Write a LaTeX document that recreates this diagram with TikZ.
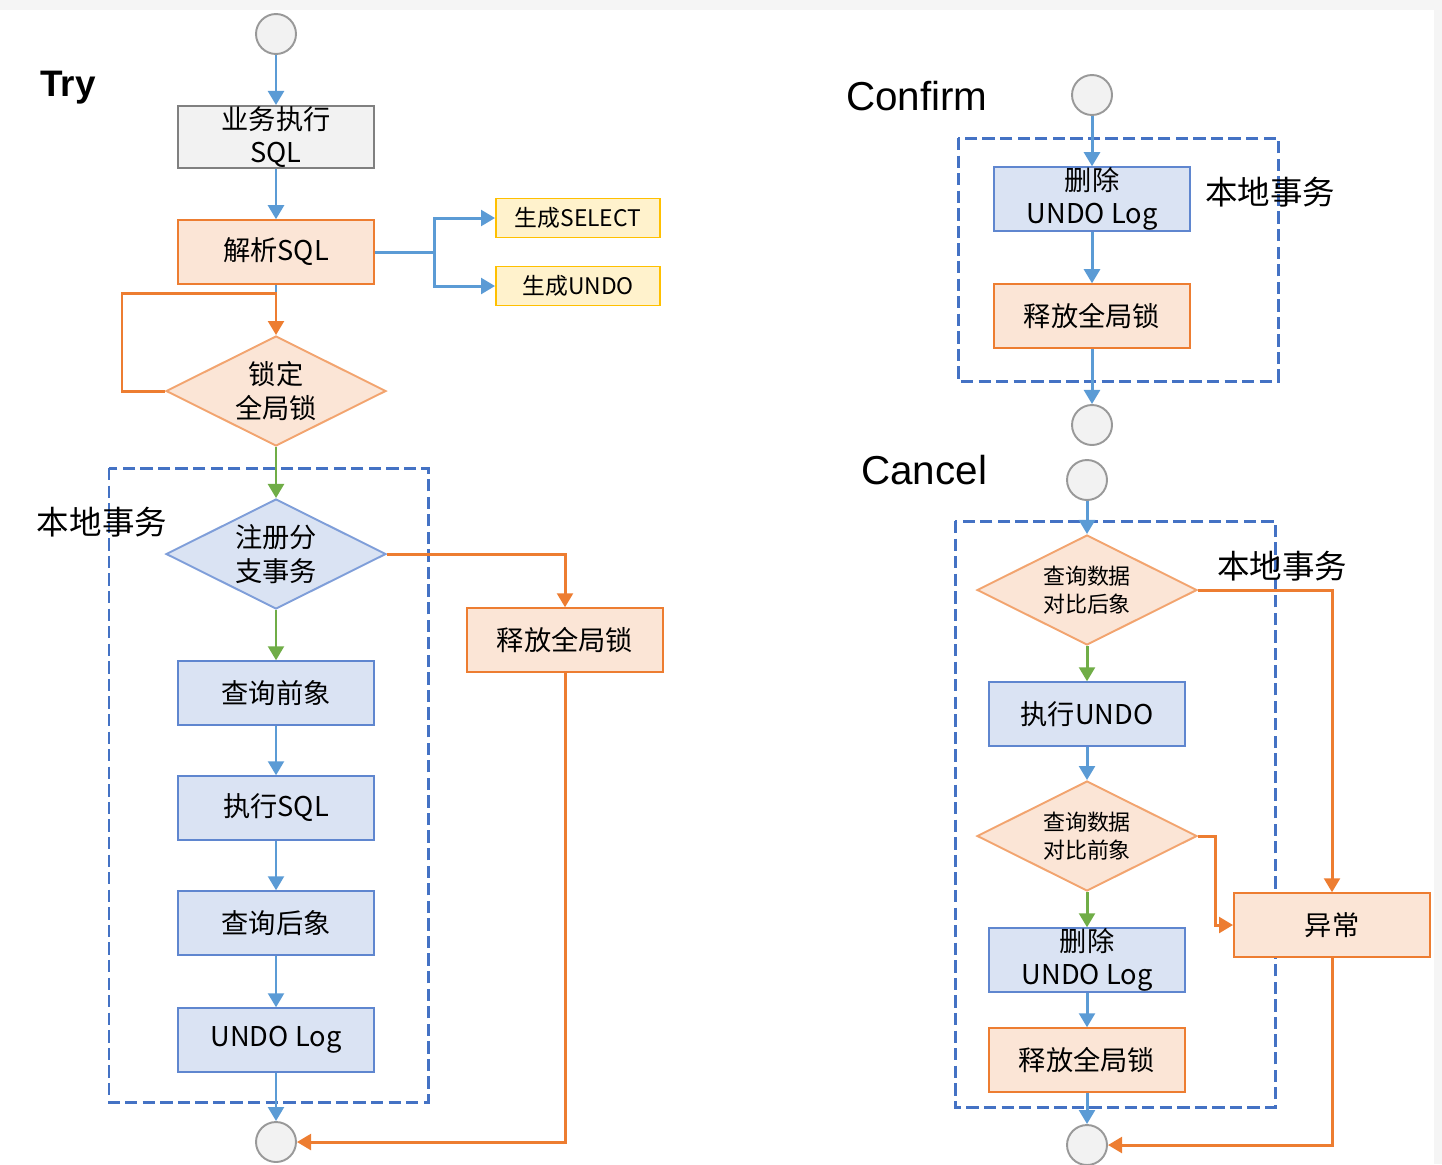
\documentclass[tikz,border=0pt]{standalone}
\usepackage{fontspec}
\setmainfont{Noto Sans CJK SC}
\newfontfamily\latinfont{Liberation Sans}
\usetikzlibrary{arrows.meta,shapes.geometric}

\definecolor{lineblue}{HTML}{5B9BD5}
\definecolor{lineorange}{HTML}{ED7D31}
\definecolor{linegreen}{HTML}{70AD47}
\definecolor{boxblue}{HTML}{DAE3F3}
\definecolor{edgeblue}{HTML}{5F86CF}
\definecolor{boxorange}{HTML}{FBE5D6}
\definecolor{boxyellow}{HTML}{FFF2CC}
\definecolor{edgeyellow}{HTML}{FFC000}
\definecolor{boxgray}{HTML}{F2F2F2}
\definecolor{framecol}{HTML}{4472C4}

\tikzset{
  every node/.style={font=\fontsize{15.5}{19}\selectfont, align=center},
  bluebox/.style={rectangle, draw=edgeblue, fill=boxblue, line width=1.1pt, inner ysep=0pt, minimum width=3.92cm, minimum height=1.27cm},
  orangebox/.style={rectangle, draw=lineorange, fill=boxorange, line width=1.1pt, inner ysep=0pt, minimum width=3.92cm, minimum height=1.27cm},
  graybox/.style={rectangle, draw=gray, fill=boxgray, line width=1.1pt, inner ysep=0pt, minimum width=3.92cm, minimum height=1.24cm},
  yellowbox/.style={rectangle, draw=edgeyellow, fill=boxyellow, line width=1.1pt, minimum width=3.28cm, minimum height=0.78cm, font=\fontsize{13}{16}\selectfont},
  decide/.style={diamond, fill=#1, inner sep=0pt, shape aspect=2, minimum width=4.4cm, minimum height=2.2cm, line width=1.1pt},
  terminal/.style={circle, draw=gray!80, fill=boxgray, line width=1.1pt, minimum size=0.8cm, inner sep=0pt},
  localframe/.style={draw=framecol, line width=1.7pt, dash pattern=on 7pt off 3pt},
  flow/.style={line width=1.7pt, -{Triangle[width=9pt,length=8pt]}},
  blueflow/.style={flow, draw=lineblue, color=lineblue},
  orangeflow/.style={flow, draw=lineorange, color=lineorange},
  greenflow/.style={flow, draw=linegreen, color=linegreen},
  phase/.style={font=\latinfont\fontsize{23}{26}\selectfont, anchor=west},
  framelabel/.style={font=\fontsize{18.5}{22}\selectfont}
}

\begin{document}
\begin{tikzpicture}[x=0.02cm,y=-0.02cm]
\useasboundingbox (0,0) rectangle (1442,1164);
\fill[gray!8] (0,0) rectangle (1442,10);
\fill[gray!8] (1434,10) rectangle (1442,1164);

% Try
\node[phase, font=\latinfont\bfseries\fontsize{21}{24}\selectfont] (try) at (34,88) {Try};
\draw[localframe] (109,468) rectangle (428,1102);
\node[framelabel] (trylocal) at (102,522) {本地事务};

\node[terminal] (tstart) at (276,34) {};
\node[graybox] (exec) at (276,137) {业务执行\\SQL};
\node[orangebox] (parse) at (276,252) {解析SQL};
\node[yellowbox] (gensel) at (578,218) {生成SELECT};
\node[yellowbox] (genundo) at (578,286) {生成UNDO};
\node[decide=boxorange, draw=lineorange!70] (lock) at (276,391) {锁定\\全局锁};
\node[decide=boxblue, draw=edgeblue!80] (reg) at (276,554) {注册分\\支事务};
\node[orangebox] (trel) at (565,640) {释放全局锁};
\node[bluebox] (qbefore) at (276,693) {查询前象};
\node[bluebox] (texec) at (276,808) {执行SQL};
\node[bluebox] (qafter) at (276,923) {查询后象};
\node[bluebox] (tlog) at (276,1040) {UNDO Log};
\node[terminal] (tend) at (276,1142) {};

\coordinate (fork) at (434,252);
\coordinate (retry) at (122,293);

\draw[blueflow] (tstart) -- (exec);
\draw[blueflow] (exec) -- (parse);
\draw[line width=1.7pt, lineblue] (parse.east) -- (fork);
\draw[blueflow] (fork) |- (gensel);
\draw[blueflow] (fork) |- (genundo);
\draw[line width=1.7pt, lineblue] (parse.south) -- (retry -| parse.south);
\draw[orangeflow] (lock.west) -- (lock.west -| retry) -- (retry) -| (lock.north);
\draw[greenflow] (lock) -- (reg);
\draw[orangeflow] (reg.east) -| (trel);
\draw[greenflow] (reg) -- (qbefore);
\draw[blueflow] (qbefore) -- (texec);
\draw[blueflow] (texec) -- (qafter);
\draw[blueflow] (qafter) -- (tlog);
\draw[blueflow] (tlog) -- (tend);
\draw[orangeflow] (trel.south) |- (tend);

% Confirm
\node[phase] (confirm) at (840,96) {Confirm};
\draw[localframe] (958,138) rectangle (1278,381);
\node[framelabel] (conflocal) at (1270,192) {本地事务};
\node[terminal] (cstart) at (1092,95) {};
\node[bluebox] (cdel) at (1092,199) {删除\\UNDO Log};
\node[orangebox] (crel) at (1092,316) {释放全局锁};
\node[terminal] (cend) at (1092,425) {};

\draw[blueflow] (cstart) -- (cdel);
\draw[blueflow] (cdel) -- (crel);
\draw[blueflow] (crel) -- (cend);

% Cancel
\node[phase] (cancel) at (855,470) {Cancel};
\draw[localframe] (955,521) rectangle (1275,1107);
\node[framelabel] (canclocal) at (1282,566) {本地事务};
\node[terminal] (kstart) at (1087,480) {};
\node[decide=boxorange, draw=lineorange!70, font=\fontsize{12.5}{16}\selectfont] (kafter) at (1087,590) {查询数据\\对比后象};
\node[bluebox] (kexec) at (1087,714) {执行UNDO};
\node[decide=boxorange, draw=lineorange!70, font=\fontsize{12.5}{16}\selectfont] (kbefore) at (1087,836) {查询数据\\对比前象};
\node[bluebox] (kdel) at (1087,960) {删除\\UNDO Log};
\node[orangebox] (krel) at (1087,1060) {释放全局锁};
\node[orangebox] (kerr) at (1332,925) {异常};
\node[terminal] (kend) at (1087,1145) {};

\draw[blueflow] (kstart) -- (kafter);
\draw[greenflow] (kafter) -- (kexec);
\draw[blueflow] (kexec) -- (kbefore);
\draw[greenflow] (kbefore) -- (kdel);
\draw[blueflow] (kdel) -- (krel);
\draw[blueflow] (krel) -- (kend);
\draw[orangeflow] (kafter.east) -| (kerr);
\draw[orangeflow] (kbefore.east) -- ++(18,0) |- (kerr);
\draw[orangeflow] (kerr.south) |- (kend);
\end{tikzpicture}
\end{document}
